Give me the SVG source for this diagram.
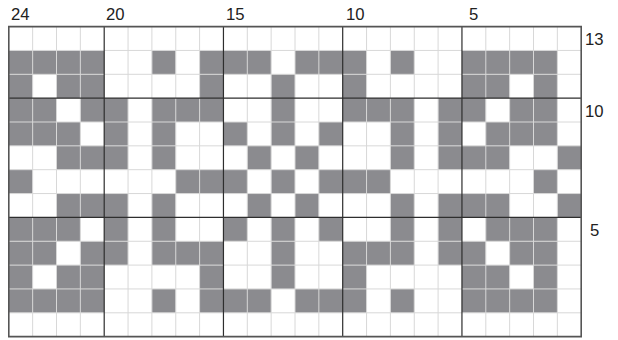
<svg xmlns="http://www.w3.org/2000/svg" width="618" height="340" viewBox="0 0 618 340">
<style>
.d{fill:#8b8b8f}
.thin{fill:none;stroke:#d8d8d8;stroke-width:1;vector-effect:non-scaling-stroke}
.thick{fill:none;stroke:#2e2e2e;stroke-width:1.2;vector-effect:non-scaling-stroke}
.bord{fill:none;stroke:#555;stroke-width:1.6;vector-effect:non-scaling-stroke}
.lbl{font-family:"Liberation Sans",Arial,sans-serif;font-size:16.7px;fill:#222}
</style>
<defs>
<g id="rA"><rect class="d" x="0" y="0" width="4" height="1"/><rect class="d" x="6" y="0" width="1" height="1"/><rect class="d" x="8" y="0" width="3" height="1"/><rect class="d" x="12" y="0" width="3" height="1"/><rect class="d" x="16" y="0" width="1" height="1"/><rect class="d" x="19" y="0" width="4" height="1"/></g>
<g id="rB"><rect class="d" x="0" y="0" width="1" height="1"/><rect class="d" x="2" y="0" width="2" height="1"/><rect class="d" x="8" y="0" width="1" height="1"/><rect class="d" x="11" y="0" width="1" height="1"/><rect class="d" x="14" y="0" width="1" height="1"/><rect class="d" x="19" y="0" width="2" height="1"/><rect class="d" x="22" y="0" width="1" height="1"/></g>
<g id="rC"><rect class="d" x="0" y="0" width="2" height="1"/><rect class="d" x="3" y="0" width="2" height="1"/><rect class="d" x="6" y="0" width="3" height="1"/><rect class="d" x="11" y="0" width="1" height="1"/><rect class="d" x="14" y="0" width="3" height="1"/><rect class="d" x="18" y="0" width="2" height="1"/><rect class="d" x="21" y="0" width="2" height="1"/></g>
<g id="rD"><rect class="d" x="0" y="0" width="3" height="1"/><rect class="d" x="4" y="0" width="1" height="1"/><rect class="d" x="6" y="0" width="1" height="1"/><rect class="d" x="9" y="0" width="1" height="1"/><rect class="d" x="11" y="0" width="1" height="1"/><rect class="d" x="13" y="0" width="1" height="1"/><rect class="d" x="16" y="0" width="1" height="1"/><rect class="d" x="18" y="0" width="1" height="1"/><rect class="d" x="20" y="0" width="3" height="1"/></g>
<g id="rE"><rect class="d" x="2" y="0" width="3" height="1"/><rect class="d" x="6" y="0" width="1" height="1"/><rect class="d" x="10" y="0" width="1" height="1"/><rect class="d" x="12" y="0" width="1" height="1"/><rect class="d" x="16" y="0" width="1" height="1"/><rect class="d" x="18" y="0" width="3" height="1"/><rect class="d" x="23" y="0" width="1" height="1"/></g>
<g id="rF"><rect class="d" x="0" y="0" width="1" height="1"/><rect class="d" x="7" y="0" width="3" height="1"/><rect class="d" x="11" y="0" width="1" height="1"/><rect class="d" x="13" y="0" width="3" height="1"/><rect class="d" x="22" y="0" width="1" height="1"/></g>
</defs>
<rect x="0" y="0" width="618" height="340" fill="#fff"/>
<g id="chart" transform="translate(8.8,26.6) scale(23.85)">
<rect x="0" y="0" width="24" height="13" fill="#fff"/>
<use href="#rA" y="1"/>
<use href="#rB" y="2"/>
<use href="#rC" y="3"/>
<use href="#rD" y="4"/>
<use href="#rE" y="5"/>
<use href="#rF" y="6"/>
<use href="#rE" y="7"/>
<use href="#rD" y="8"/>
<use href="#rC" y="9"/>
<use href="#rB" y="10"/>
<use href="#rA" y="11"/>
<path class="thin" d="M0 1H24M0 2H24M0 4H24M0 5H24M0 6H24M0 7H24M0 9H24M0 10H24M0 11H24M0 12H24M1 0V13M2 0V13M3 0V13M5 0V13M6 0V13M7 0V13M8 0V13M10 0V13M11 0V13M12 0V13M13 0V13M15 0V13M16 0V13M17 0V13M18 0V13M20 0V13M21 0V13M22 0V13M23 0V13"/>
<path class="thick" d="M0 3H24M0 8H24M4 0V13M9 0V13M14 0V13M19 0V13"/>
<rect class="bord" x="0" y="0" width="24" height="13"/>
</g>
<g id="labels">
<text class="lbl" x="11" y="20">24</text>
<text class="lbl" x="106" y="20">20</text>
<text class="lbl" x="226" y="20">15</text>
<text class="lbl" x="346" y="20">10</text>
<text class="lbl" x="469" y="20">5</text>
<text class="lbl" x="585" y="45">13</text>
<text class="lbl" x="585" y="117">10</text>
<text class="lbl" x="590" y="236">5</text>
</g>
</svg>
